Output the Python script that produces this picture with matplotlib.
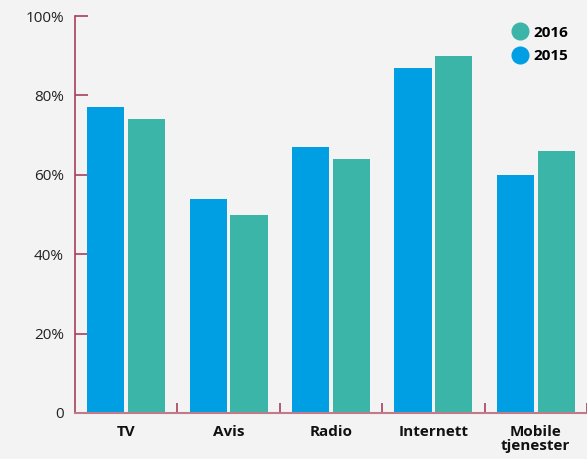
import numpy as np
import matplotlib.pyplot as plt
from matplotlib.lines import Line2D
from matplotlib.ticker import FuncFormatter

plt.rcParams['font.family'] = ['Open Sans', 'DejaVu Sans']

categories = ["TV", "Avis", "Radio", "Internett", "Mobile\ntjenester"]
values_2015 = [77, 54, 67, 87, 60]
values_2016 = [74, 50, 64, 90, 66]

c2015 = "#009fe3"
c2016 = "#3bb5a8"
axis_col = "#a8415a"
bg = "#f3f3f3"

fig = plt.figure(figsize=(5.87, 4.59), dpi=100, facecolor=bg)
ax = fig.add_axes([75 / 587, 46 / 459, 512 / 587, 397 / 459])
ax.set_facecolor(bg)

x = np.arange(len(categories))
w = 0.363
ax.bar(x - 0.2, values_2015, width=w, color=c2015, zorder=2)
ax.bar(x + 0.2, values_2016, width=w, color=c2016, zorder=2)

ax.set_xlim(-0.5, 4.5)
ax.set_ylim(0, 100)

# akser
for s in ["top", "right"]:
    ax.spines[s].set_visible(False)
ax.spines["left"].set_color(axis_col)
ax.spines["bottom"].set_color("#c07a88")
ax.spines["left"].set_linewidth(1.2)
ax.spines["bottom"].set_linewidth(1.5)

ax.set_yticks([0, 20, 40, 60, 80, 100])
ax.yaxis.set_major_formatter(FuncFormatter(lambda v, p: "0" if v == 0 else f"{int(v)}%"))
ax.tick_params(axis="y", direction="in", length=9.5, width=1.2, color=axis_col,
               labelsize=11, pad=8, labelcolor="#222222")

ax.set_xticks(x)
ax.set_xticklabels(categories, fontweight="bold", fontsize=11, linespacing=0.95)
ax.tick_params(axis="x", length=0, pad=9, labelcolor="#111111")
ax.set_xticks(np.arange(0.5, 4.6, 1.0), minor=True)
ax.tick_params(axis="x", which="minor", direction="in", length=7, width=1.2, color=axis_col)

handles = [
    Line2D([], [], marker="o", linestyle="none", markersize=12, color=c2016, label="2016"),
    Line2D([], [], marker="o", linestyle="none", markersize=12, color=c2015, label="2015"),
]
leg = ax.legend(handles=handles, loc="upper right", bbox_to_anchor=(0.99, 1.01),
                frameon=False, handlelength=1.0, handletextpad=0.35, labelspacing=0.63,
                prop={"weight": "bold", "size": 11})

fig.savefig("out.png", dpi=100, facecolor=bg)
